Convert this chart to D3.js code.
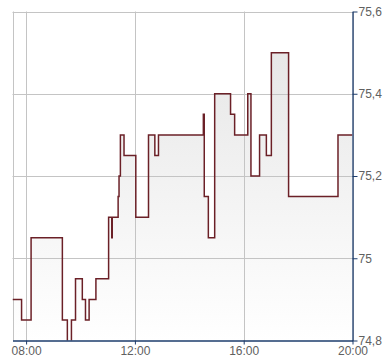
<!DOCTYPE html>
<html>
<head>
<meta charset="utf-8">
<script src="https://cdn.jsdelivr.net/npm/d3@7"></script>
<style>
  body { margin: 0; background: #fff; }
  svg { display: block; }
  .tick text { font-family: "Liberation Sans", Arial, sans-serif; font-size: 12px; fill: #606060; }
</style>
</head>
<body>
<div id="chart"></div>
<script>
// step quotes, time (HH:MM) -> price
var times = ["07:30", "07:50", "08:11", "09:20", "09:31", "09:40", "09:49", "10:04", "10:11", "10:19",
  "10:34", "11:02", "11:09", "11:10", "11:23", "11:25", "11:28", "11:36", "12:02", "12:30",
  "12:44", "12:52", "14:31", "14:33", "14:42", "14:56", "15:31", "15:40", "16:09", "16:16",
  "16:35", "16:50", "17:01", "17:39", "19:28", "20:00"];
var prices = [74.90, 74.85, 75.05, 74.85, 74.75, 74.85, 74.95, 74.90, 74.85, 74.90,
  74.95, 75.10, 75.05, 75.10, 75.15, 75.20, 75.30, 75.25, 75.10, 75.30,
  75.25, 75.30, 75.35, 75.15, 75.05, 75.40, 75.35, 75.30, 75.40, 75.20,
  75.30, 75.25, 75.50, 75.15, 75.30, 75.30];
var yTicks = [74.8, 75, 75.2, 75.4, 75.6];
var xStart = "07:30", xEnd = "20:00";

var parse = d3.timeParse("%H:%M");
var data = times.map(function(t, i) { return {t: parse(t), v: prices[i]}; });

var svg = d3.select("#chart").append("svg").attr("width", 390).attr("height", 364),
    pLeft = 12.5, pRight = 352.5, pTop = 11.5, pBottom = 340.5;

var x = d3.scaleTime().domain([parse(xStart), parse(xEnd)]).range([pLeft, pRight]);
var y = d3.scaleLinear().domain([74.8, 75.6]).range([pBottom, pTop]);

var defs = svg.append("defs");
var grad = defs.append("linearGradient")
    .attr("id", "fillGrad").attr("gradientUnits", "userSpaceOnUse")
    .attr("x1", 0).attr("y1", pTop).attr("x2", 0).attr("y2", pBottom);
grad.append("stop").attr("offset", "0%").attr("stop-color", "#e4e4e4");
grad.append("stop").attr("offset", "100%").attr("stop-color", "#ffffff");

defs.append("clipPath").attr("id", "plotClip")
  .append("rect").attr("x", pLeft).attr("y", pTop).attr("width", pRight - pLeft).attr("height", pBottom - pTop);

// area fill
svg.append("path")
    .datum(data)
    .attr("clip-path", "url(#plotClip)")
    .attr("fill", "url(#fillGrad)")
    .attr("d", d3.area().curve(d3.curveStepAfter)
      .x(function(d) { return x(d.t); })
      .y0(pBottom)
      .y1(function(d) { return y(d.v); }));

// grid
var grid = svg.append("g").attr("stroke", "#c4c4c4").attr("stroke-width", 1);
grid.selectAll(".h").data(yTicks.slice(1)).enter().append("line")
    .attr("x1", pLeft).attr("x2", pRight)
    .attr("y1", function(d) { return Math.round(y(d)) + 0.5; })
    .attr("y2", function(d) { return Math.round(y(d)) + 0.5; });
grid.selectAll(".v").data([parse(xStart)].concat(x.ticks(d3.timeHour.every(4)))).enter().append("line")
    .attr("x1", function(d) { return Math.round(x(d)) + 0.5; })
    .attr("x2", function(d) { return Math.round(x(d)) + 0.5; })
    .attr("y1", pTop).attr("y2", pBottom);

// price line
svg.append("path")
    .datum(data)
    .attr("clip-path", "url(#plotClip)")
    .attr("fill", "none")
    .attr("stroke", "#6b2027")
    .attr("stroke-width", 1.5)
    .attr("d", d3.line().curve(d3.curveStepAfter)
      .x(function(d) { return x(d.t); })
      .y(function(d) { return y(d.v); }));

// axes
var yAxis = svg.append("g")
    .attr("transform", "translate(" + pRight + ",0)")
    .call(d3.axisRight(y).tickValues(yTicks).tickSize(5).tickSizeOuter(0).tickPadding(1)
      .tickFormat(function(d) { return String(+d.toFixed(1)).replace(".", ","); }));
var xAxis = svg.append("g")
    .attr("transform", "translate(0," + pBottom + ")")
    .call(d3.axisBottom(x).ticks(d3.timeHour.every(4)).tickSize(4).tickSizeOuter(0).tickPadding(2)
      .tickFormat(d3.timeFormat("%H:%M")));

[yAxis, xAxis].forEach(function(a) {
  a.select(".domain").attr("stroke", "#1d3c6c").attr("stroke-width", 1.3);
  a.selectAll(".tick line").attr("stroke", "#1d3c6c");
});
</script>
</body>
</html>
